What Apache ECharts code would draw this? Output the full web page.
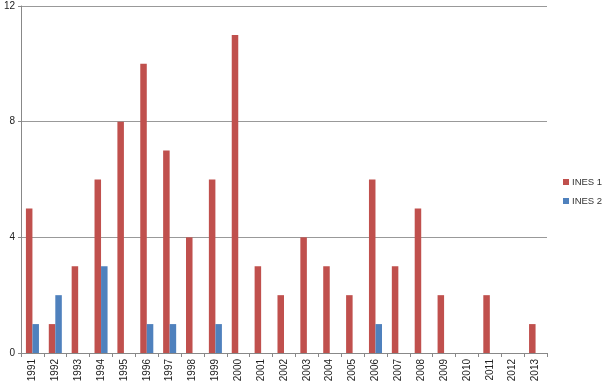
<!DOCTYPE html>
<html><head><meta charset="utf-8">
<script src="https://cdn.jsdelivr.net/npm/echarts@6/dist/echarts.min.js"></script>
<style>html,body{margin:0;padding:0;background:#fff}#c{width:605px;height:387px}</style>
</head><body><div id="c"></div>
<script>
const years = ['1991','1992','1993','1994','1995','1996','1997','1998','1999','2000','2001','2002','2003','2004','2005','2006','2007','2008','2009','2010','2011','2012','2013'];
const ines1 = [5,1,3,6,8,10,7,4,6,11,3,2,4,3,2,6,3,5,2,0,2,0,1];
const ines2 = [1,2,0,3,0,1,1,0,1,0,0,0,0,0,0,1,0,0,0,0,0,0,0];
const yTicks = [0,4,8,12];

const chart = echarts.init(document.getElementById('c'), null, {renderer:'canvas'});
const font = 'Liberation Sans';
chart.setOption({
  animation:false,
  textStyle:{fontFamily:font},
  grid:{left:21, right:58, top:6, bottom:34, containLabel:false},
  legend:{
    orient:'vertical', left:563, top:176, padding:0, itemWidth:6, itemHeight:6, itemGap:7,
    icon:'rect',
    textStyle:{fontSize:9.5, color:'#333', fontFamily:font, padding:[0,0,0,-2], lineHeight:12},
    data:['INES 1','INES 2']
  },
  xAxis:{
    type:'category', data:years,
    axisLine:{lineStyle:{color:'#888', width:1}},
    axisTick:{show:true, length:4, lineStyle:{color:'#888'}},
    axisLabel:{rotate:90, fontSize:10, color:'#222', margin:6, fontFamily:font}
  },
  yAxis:{
    type:'value', min:0, max:12, interval:4,
    axisLine:{show:true, lineStyle:{color:'#888'}},
    axisTick:{show:true, length:3, lineStyle:{color:'#888'}},
    axisLabel:{fontSize:10, color:'#222', margin:6, fontFamily:font,
      formatter:v=>yTicks.includes(v)?String(v):''},
    splitLine:{lineStyle:{color:'#999', width:1}}
  },
  series:[
    {name:'INES 1', type:'bar', data:ines1, barGap:'0%', barCategoryGap:'43%',
     itemStyle:{color:'#C0504D'}},
    {name:'INES 2', type:'bar', data:ines2, barGap:'0%', barCategoryGap:'43%',
     itemStyle:{color:'#4F81BD'}}
  ]
});
</script></body></html>
